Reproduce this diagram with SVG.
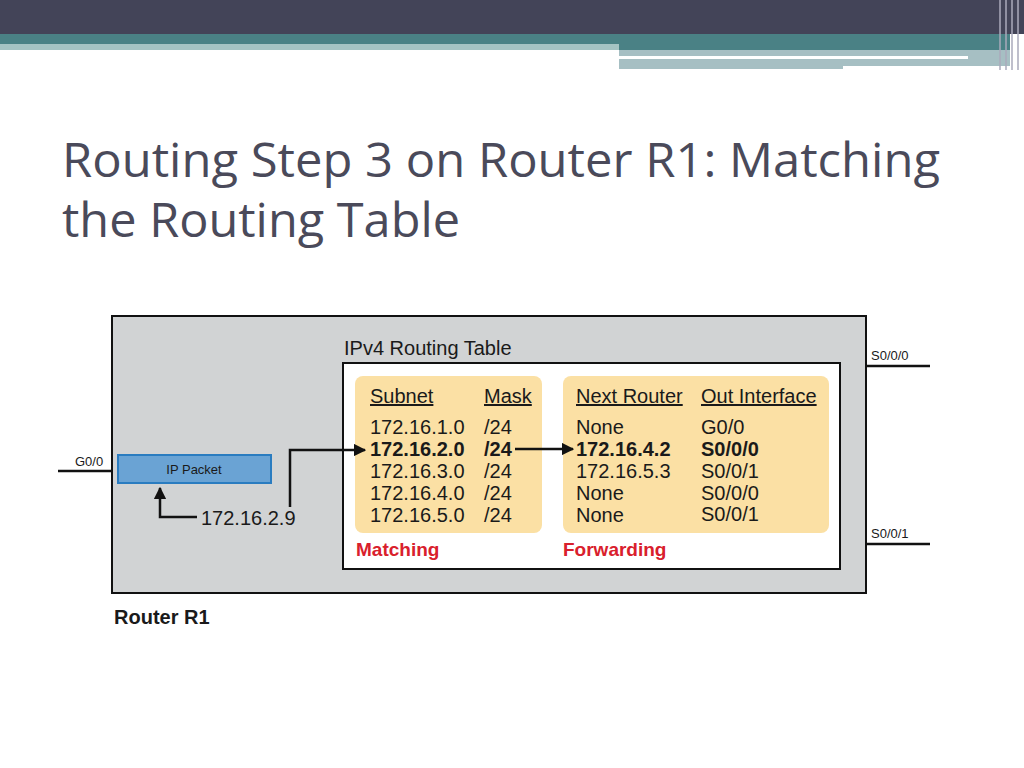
<svg xmlns="http://www.w3.org/2000/svg" width="1024" height="768" viewBox="0 0 1024 768">
<style>
.t{font-family:"Liberation Sans",Arial,sans-serif;font-size:20px;fill:#1a1a1a}
.b{font-weight:bold}
.h{font-family:"Liberation Sans",Arial,sans-serif;font-size:20px;fill:#1a1a1a;text-decoration:underline}
.s{font-family:"Liberation Sans",Arial,sans-serif;font-size:13px;fill:#1a1a1a}
.r{font-family:"Liberation Sans",Arial,sans-serif;font-size:19px;font-weight:bold;fill:#d9202c}
.ln{stroke:#111;stroke-width:2.5;fill:none}
</style>
<defs><marker id="a" viewBox="0 0 10 10" refX="9" refY="5" markerWidth="5" markerHeight="5" orient="auto-start-reverse"><path d="M0,0L10,5L0,10z" fill="#111"/></marker></defs>
<rect width="1024" height="768" fill="#fff"/>
<rect x="0" y="0" width="1024" height="34" fill="#434458"/>
<rect x="0" y="34" width="1010" height="10" fill="#4a8185"/>
<rect x="0" y="44" width="619" height="6" fill="#a5c3c3"/>
<rect x="619" y="44" width="391" height="6" fill="#4a8185"/>
<rect x="619" y="50" width="391" height="19" fill="#a6bfc3"/>
<rect x="619" y="56" width="349" height="3" fill="#fff"/>
<rect x="843" y="66" width="167" height="4" fill="#fff"/>
<g stroke="#aab" stroke-width="1.5"><line x1="1000" y1="0" x2="1000" y2="70"/><line x1="1006" y1="0" x2="1006" y2="70"/><line x1="1012" y1="0" x2="1012" y2="70"/><line x1="1018" y1="0" x2="1018" y2="70"/></g>
<text x="62" y="177" font-family="'Open Sans','Noto Sans',sans-serif" font-size="47" fill="#4a4a5a" textLength="878" lengthAdjust="spacingAndGlyphs">Routing Step 3 on Router R1: Matching</text>
<text x="62" y="237" font-family="'Open Sans','Noto Sans',sans-serif" font-size="47" fill="#4a4a5a" textLength="398" lengthAdjust="spacingAndGlyphs">the Routing Table</text>
<g id="router"><rect x="112" y="316" width="754" height="277" fill="#d1d3d4" stroke="#111" stroke-width="2"/>
<text x="114" y="624" class="t b" font-size="22">Router R1</text></g>
<g id="table"><rect x="343" y="363" width="497" height="206" fill="#fff" stroke="#111" stroke-width="2"/>
<text x="344" y="355" class="t">IPv4 Routing Table</text>
<rect x="355" y="376" width="187" height="157" rx="8" fill="#fbe0a4"/>
<rect x="563" y="376" width="266" height="157" rx="8" fill="#fbe0a4"/>
<text x="370" y="403" class="h">Subnet</text><text x="484" y="403" class="h">Mask</text>
<text x="576" y="403" class="h">Next Router</text><text x="701" y="403" class="h">Out Interface</text>
<text class="t"><tspan x="370" y="434">172.16.1.0</tspan><tspan x="370" y="456" font-weight="bold">172.16.2.0</tspan><tspan x="370" y="478">172.16.3.0</tspan><tspan x="370" y="500">172.16.4.0</tspan><tspan x="370" y="522">172.16.5.0</tspan></text>
<text class="t"><tspan x="484" y="434">/24</tspan><tspan x="484" y="456" font-weight="bold">/24</tspan><tspan x="484" y="478">/24</tspan><tspan x="484" y="500">/24</tspan><tspan x="484" y="522">/24</tspan></text>
<text class="t"><tspan x="576" y="434">None</tspan><tspan x="576" y="456" font-weight="bold">172.16.4.2</tspan><tspan x="576" y="478">172.16.5.3</tspan><tspan x="576" y="500">None</tspan><tspan x="576" y="522">None</tspan></text>
<text class="t"><tspan x="701" y="434">G0/0</tspan><tspan x="701" y="456" font-weight="bold">S0/0/0</tspan><tspan x="701" y="478">S0/0/1</tspan><tspan x="701" y="500">S0/0/0</tspan><tspan x="701" y="521">S0/0/1</tspan></text>
<text x="356" y="556" class="r">Matching</text><text x="563" y="556" class="r">Forwarding</text></g>
<g id="packet"><rect x="118" y="455" width="153" height="28" fill="#6aa3d4" stroke="#2a7cc0" stroke-width="2"/>
<text x="194" y="474" class="s" text-anchor="middle" font-size="14">IP Packet</text></g>
<text x="201" y="525" class="t">172.16.2.9</text>
<text x="75" y="466" class="s">G0/0</text><text x="871" y="360" class="s">S0/0/0</text><text x="871" y="538" class="s">S0/0/1</text>
<g id="connectors">
<line x1="58" y1="471" x2="112" y2="471" class="ln"/>
<line x1="866" y1="366" x2="930" y2="366" class="ln"/>
<line x1="866" y1="544" x2="930" y2="544" class="ln"/>
<path d="M290,507V450H365" class="ln" marker-end="url(#a)"/>
<path d="M197,517H160V488" class="ln" marker-end="url(#a)"/>
<path d="M515,449H573" class="ln" marker-end="url(#a)"/>
</g>
</svg>
